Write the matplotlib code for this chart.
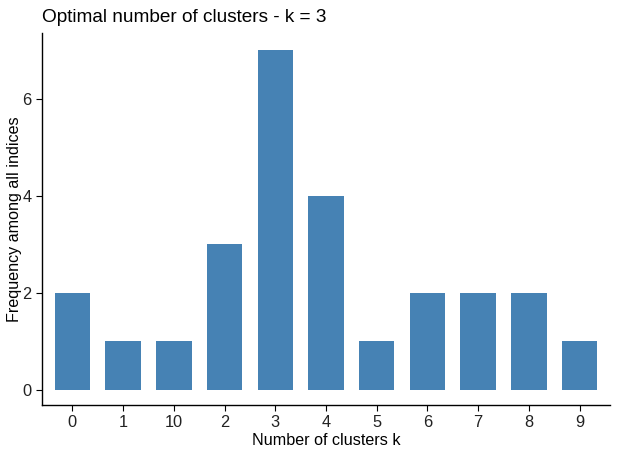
import matplotlib
matplotlib.use("Agg")
import matplotlib.pyplot as plt

# Frequency of the suggested k among all indices
cluster_labels = ["0", "1", "10", "2", "3", "4", "5", "6", "7", "8", "9"]
frequency = [2, 1, 1, 3, 7, 4, 1, 2, 2, 2, 1]
y_ticks = [0, 2, 4, 6]

plt.rcParams["font.family"] = ["Liberation Sans", "DejaVu Sans"]

fig = plt.figure(figsize=(6.2, 4.55), dpi=100)
ax = fig.add_axes([42 / 620, 50 / 455, 568 / 620, 372 / 455])

positions = range(len(cluster_labels))
ax.bar(positions, frequency, width=0.7, color="#4682B4")

ax.set_xlim(-0.6, len(cluster_labels) - 0.4)
ax.set_ylim(-0.31, 7.35)
ax.set_xticks(list(positions))
ax.set_xticklabels(cluster_labels)
ax.set_yticks(y_ticks)

ax.spines["top"].set_visible(False)
ax.spines["right"].set_visible(False)
for side in ["left", "bottom"]:
    ax.spines[side].set_linewidth(1.0)
    ax.spines[side].set_color("black")
ax.tick_params(axis="both", labelsize=11.8, colors="#222222", length=4, width=0.8)
ax.tick_params(axis="both", color="black")

ax.set_xlabel("Number of clusters k", fontsize=11.6, color="black", labelpad=2)
ax.set_ylabel("Frequency among all indices", fontsize=11.6, color="black", labelpad=0)
ax.set_title("Optimal number of clusters - k = 3", fontsize=13.7, loc="left", pad=8)

fig.savefig("out.png", dpi=100)
